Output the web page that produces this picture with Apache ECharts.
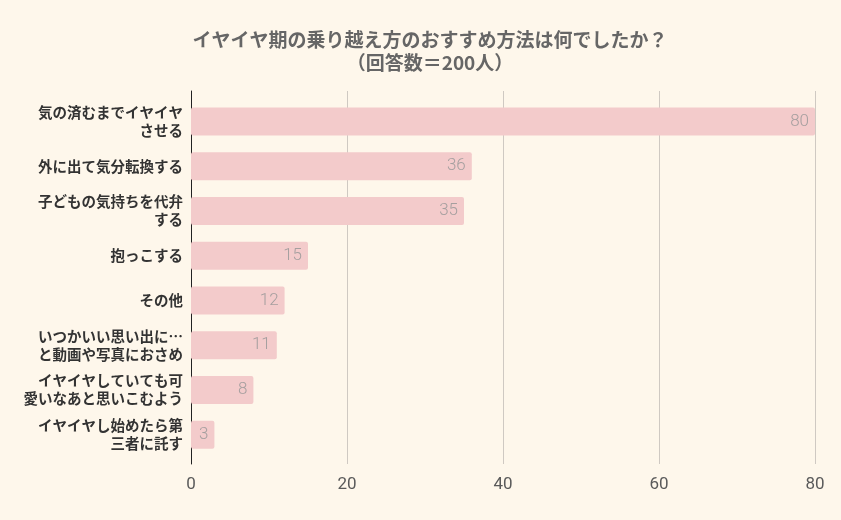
<!DOCTYPE html>
<html><head><meta charset="utf-8">
<script src="https://cdn.jsdelivr.net/npm/echarts@6/dist/echarts.min.js"></script>
<style>html,body{margin:0;padding:0;background:#fef7eb;}#c{width:841px;height:520px;}</style>
</head><body><div id="c"></div>
<script>
const titleLines = ['イヤイヤ期の乗り越え方のおすすめ方法は何でしたか？', '（回答数＝200人）'];
const categories = [
  '気の済むまでイヤイヤ\nさせる',
  '外に出て気分転換する',
  '子どもの気持ちを代弁\nする',
  '抱っこする',
  'その他',
  'いつかいい思い出に…\nと動画や写真におさめ',
  'イヤイヤしていても可\n愛いなあと思いこむよう',
  'イヤイヤし始めたら第\n三者に託す'
];
const values = [80, 36, 35, 15, 12, 11, 8, 3];
const xTicks = [0, 20, 40, 60, 80];

const chart = echarts.init(document.getElementById('c'));
const font = '"Noto Sans CJK JP", sans-serif';
const numFont = 'Roboto, "Liberation Sans", sans-serif';
const tStyle = {fontFamily: font, fontSize: 19, fontWeight: 'bold', color: '#666'};
chart.setOption({
  backgroundColor: '#fef7eb',
  animation: false,
  title: [
    {text: titleLines[0], left: 425, top: 25, textAlign: 'center', textStyle: tStyle},
    {text: titleLines[1], left: 425, top: 48, textAlign: 'center', textStyle: tStyle}
  ],
  grid: [
    {left: 191, right: 26, top: 91, height: 373},
    {left: 191, right: 26, top: 99, height: 358}
  ],
  xAxis: [
    {gridIndex: 0, type: 'value', min: xTicks[0], max: xTicks[xTicks.length-1], interval: 20,
     axisLine: {show: false}, axisTick: {show: false},
     splitLine: {lineStyle: {color: '#cfc9c2', width: 1}},
     axisLabel: {fontFamily: numFont, fontSize: 17, color: '#5a5a5a', margin: 12}},
    {gridIndex: 1, type: 'value', min: xTicks[0], max: xTicks[xTicks.length-1], show: false}
  ],
  yAxis: [
    {gridIndex: 0, type: 'value', min: 0, max: 1, axisLabel: {show: false}, splitLine: {show: false},
     axisTick: {show: false}, axisLine: {show: true, lineStyle: {color: '#222', width: 1}}},
    {gridIndex: 1, type: 'category', data: categories, inverse: true,
     axisLine: {show: false}, axisTick: {show: false},
     axisLabel: {fontFamily: font, fontSize: 14.5, fontWeight: 'bold', color: '#333', margin: 8, lineHeight: 18, align: 'right'}}
  ],
  series: [{
    type: 'bar', xAxisIndex: 1, yAxisIndex: 1, data: values,
    barWidth: 28,
    itemStyle: {color: '#f3cbcb', borderRadius: 2},
    label: {show: true, position: 'insideRight', distance: 6, fontFamily: numFont, fontSize: 17, fontWeight: 300, color: '#a59f9f'}
  }]
});
</script></body></html>
